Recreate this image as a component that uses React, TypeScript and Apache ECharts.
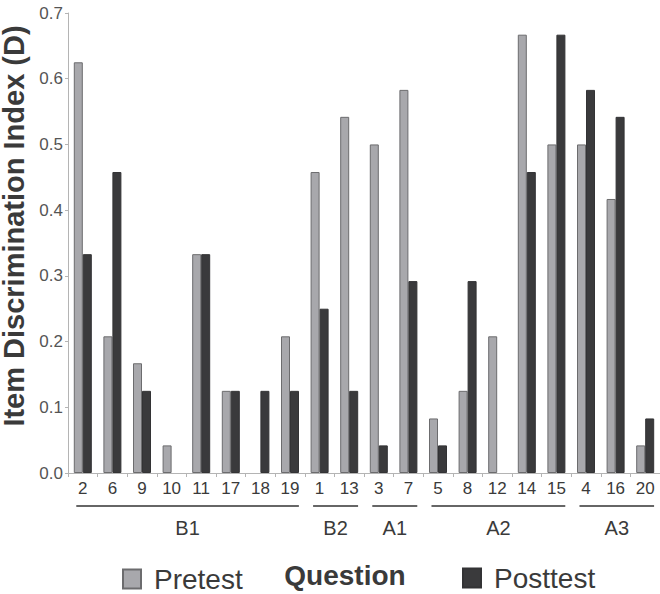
import React, { useEffect, useRef } from 'react';
import * as echarts from 'echarts';

const categories = ['2', '6', '9', '10', '11', '17', '18', '19', '1', '13', '3', '7', '5', '8', '12', '14', '15', '4', '16', '20'];
const pretest = [0.625, 0.208, 0.167, 0.042, 0.333, 0.125, 0, 0.208, 0.458, 0.542, 0.5, 0.583, 0.083, 0.125, 0.208, 0.667, 0.5, 0.5, 0.417, 0.042];
const posttest = [0.333, 0.458, 0.125, 0, 0.333, 0.125, 0.125, 0.125, 0.25, 0.125, 0.042, 0.292, 0.042, 0.292, 0, 0.458, 0.667, 0.583, 0.542, 0.083];
const groupNames = ['B1', 'B2', 'A1', 'A2', 'A3'];
const groupSizes = [8, 2, 2, 5, 3];
const yMin = 0;
const yMax = 0.7;
const yStep = 0.1;

const FONT = 'Liberation Sans';
const TEXT = '#3a3a3a';
const AXIS = '#b4b4b4';
// square swatch followed by blank space, so the legend text sits further from the box
const LEGEND_ICON = 'path://M0 0H18V19H0Z M26 19';

const noZero = (arr: number[]) => arr.map((v) => (v === 0 ? null : v));

export default function App() {
  const ref = useRef<HTMLDivElement>(null);

  useEffect(() => {
    if (!ref.current) return;
    const chart = echarts.init(ref.current, undefined, { renderer: 'svg' });
    chart.setOption({
      animation: false,
      backgroundColor: '#ffffff',
      textStyle: { fontFamily: FONT },
      grid: {
        left: 68,
        right: 0,
        top: 13,
        bottom: 121,
        containLabel: false,
        outerBoundsMode: 'none',
      },
      legend: [
        {
          data: ['Pretest'],
          left: 122,
          top: 565,
          padding: 0,
          itemWidth: 26,
          itemHeight: 19,
          icon: LEGEND_ICON,
          selectedMode: false,
          textStyle: { fontSize: 28, lineHeight: 22, color: TEXT, fontFamily: FONT },
        },
        {
          data: ['Posttest'],
          left: 462,
          top: 564,
          padding: 0,
          itemWidth: 26,
          itemHeight: 19,
          icon: LEGEND_ICON,
          selectedMode: false,
          textStyle: { fontSize: 28, lineHeight: 22, color: TEXT, fontFamily: FONT },
        },
      ],
      xAxis: {
        type: 'category',
        data: categories,
        axisLine: { show: true, lineStyle: { color: AXIS, width: 1 } },
        axisTick: { show: true, length: 4, lineStyle: { color: AXIS } },
        axisLabel: { fontSize: 17, color: TEXT, margin: 7, fontFamily: FONT, interval: 0 },
        splitLine: { show: false },
      },
      yAxis: {
        type: 'value',
        min: yMin,
        max: yMax,
        interval: yStep,
        name: 'Item Discrimination Index (D)',
        nameLocation: 'middle',
        nameGap: 27,
        nameTextStyle: {
          fontSize: 29,
          lineHeight: 26,
          fontWeight: 'bold',
          color: TEXT,
          fontFamily: FONT,
          padding: [0, 0, 0, 34],
        },
        axisLine: { show: true, lineStyle: { color: AXIS, width: 1 } },
        axisTick: { show: true, length: 3, lineStyle: { color: AXIS } },
        axisLabel: {
          fontSize: 17,
          color: '#555',
          margin: 5,
          fontFamily: FONT,
          formatter: (v: number) => v.toFixed(1),
        },
        splitLine: { show: false },
      },
      series: [
        {
          name: 'Pretest',
          type: 'bar',
          data: noZero(pretest),
          barWidth: 9,
          barGap: '0%',
          itemStyle: { color: '#a8a8ac', borderColor: '#6c6c6e', borderWidth: 1 },
        },
        {
          name: 'Posttest',
          type: 'bar',
          data: noZero(posttest),
          barWidth: 9,
          itemStyle: { color: '#3a3a3c', borderColor: '#333335', borderWidth: 1 },
        },
      ],
    });

    const px = (c: string) => chart.convertToPixel({ xAxisIndex: 0 }, c) as number;
    const band = px(categories[1]) - px(categories[0]);
    const graphics: any[] = [];
    let idx = 0;
    groupNames.forEach((g, i) => {
      const first = categories[idx];
      const last = categories[idx + groupSizes[i] - 1];
      idx += groupSizes[i];
      const x1 = px(first) - band * 0.22;
      const x2 = px(last) + band * 0.3;
      graphics.push({
        type: 'line',
        shape: { x1, y1: 506, x2, y2: 506 },
        style: { stroke: '#333', lineWidth: 1.3 },
      });
      graphics.push({
        type: 'text',
        x: (x1 + x2) / 2,
        y: 528,
        style: {
          text: g,
          fontSize: 20,
          fontFamily: FONT,
          fill: TEXT,
          textAlign: 'center',
          textVerticalAlign: 'middle',
        },
      });
    });
    graphics.push({
      type: 'text',
      x: 345,
      y: 575,
      style: {
        text: 'Question',
        fontSize: 28,
        lineHeight: 22,
        fontWeight: 'bold',
        fontFamily: FONT,
        fill: TEXT,
        textAlign: 'center',
        textVerticalAlign: 'middle',
      },
    });
    chart.setOption({ graphic: graphics });

    return () => chart.dispose();
  }, []);

  return (
    <div
      ref={ref}
      style={{ position: 'absolute', left: 0, top: 0, width: 660, height: 594 }}
    />
  );
}
